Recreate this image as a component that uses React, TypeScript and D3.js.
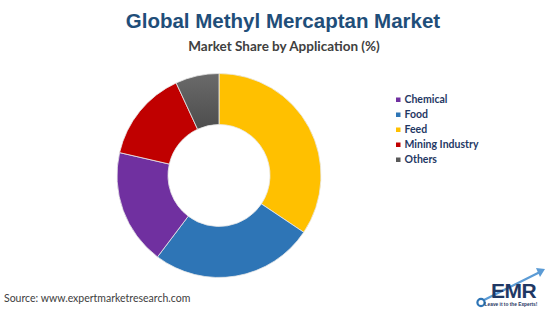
import React from "react";
import * as d3 from "d3";

const categories = ["Chemical", "Food", "Feed", "Mining Industry", "Others"];
const shares = [18.3, 25.9, 34.4, 14.5, 6.9];
const colors = ["#7030A0", "#2E75B6", "#FFC000", "#C00000", "#595959"];
// clockwise drawing order starting at 12 o'clock
const drawOrder = ["Feed", "Food", "Chemical", "Mining Industry", "Others"];

const W = 550;
const H = 309;

export default function App() {
  const cx = 219;
  const cy = 175.5;
  const outerR = 102;
  const innerR = 51;

  const data = drawOrder.map((name) => {
    const i = categories.indexOf(name);
    return { name, value: shares[i], color: colors[i] };
  });
  const pie = d3.pie<any>().value((d) => d.value).sort(null).startAngle(0).endAngle(2 * Math.PI);
  const arcs = pie(data);
  const arc = d3.arc<any>().innerRadius(innerR).outerRadius(outerR);

  const legendY = d3.scalePoint<string>().domain(categories).range([102, 162]);

  return (
    <svg
      width={W}
      height={H}
      style={{ position: "absolute", left: 0, top: 0, background: "#fff" }}
      fontFamily="'Liberation Sans', Arial, sans-serif"
    >
      <defs>
        <linearGradient id="grayGrad" x1="0" y1="0" x2="0" y2="1">
          <stop offset="0" stopColor="#6a6a6a" />
          <stop offset="1" stopColor="#4d4d4d" />
        </linearGradient>
      </defs>
      <rect x={0} y={0} width={W} height={H} fill="#fff" />
      <text x={283} y={28} textAnchor="middle" fontSize={20.5} fontWeight="bold" fill="#1F4E79">
        Global Methyl Mercaptan Market
      </text>
      <text x={284} y={51} textAnchor="middle" fontSize={13.5} fontWeight="bold" fill="#404040" fontFamily="Lato, 'Open Sans', sans-serif">
        Market Share by Application (%)
      </text>

      <g transform={`translate(${cx},${cy})`}>
        {arcs.map((a, i) => (
          <path
            key={i}
            d={arc(a) as string}
            fill={a.data.name === "Others" ? "url(#grayGrad)" : a.data.color}
            stroke="#e8e8e8"
            strokeWidth={0.8}
          />
        ))}
      </g>

      <g fontFamily="Lato, 'Open Sans', sans-serif">
        {categories.map((c, i) => (
          <g key={c} transform={`translate(396,${legendY(c)})`}>
            <rect x={0} y={-4.5} width={4.5} height={4.5} fill={colors[i]} />
            <text x={8.5} y={0.5} fontSize={10.5} fontWeight="bold" fill="#1F3864">
              {c}
            </text>
          </g>
        ))}
      </g>

      <text x={4} y={302} fontSize={10.5} fill="#404040" fontFamily="Lato, 'Open Sans', sans-serif">
        Source: www.expertmarketresearch.com
      </text>

      {/* EMR logo */}
      <g>
        <path d="M484,300 L540,272" stroke="#5B9BD5" strokeWidth={2.2} fill="none" />
        <path d="M536,268 L545,269 L540,277 Z" fill="#5B9BD5" />
        <circle cx={481} cy={302.5} r={3.6} fill="#fff" stroke="#2E75B6" strokeWidth={2.2} />
        <text x={513.5} y={298} textAnchor="middle" fontSize={21} fontWeight="bold" fill="#1F3864" letterSpacing={-0.5}>
          EMR
        </text>
        <text x={511} y={305.5} textAnchor="middle" fontSize={4.8} fontWeight="bold" fill="#1F3864">
          Leave it to the Experts!
        </text>
      </g>
    </svg>
  );
}
